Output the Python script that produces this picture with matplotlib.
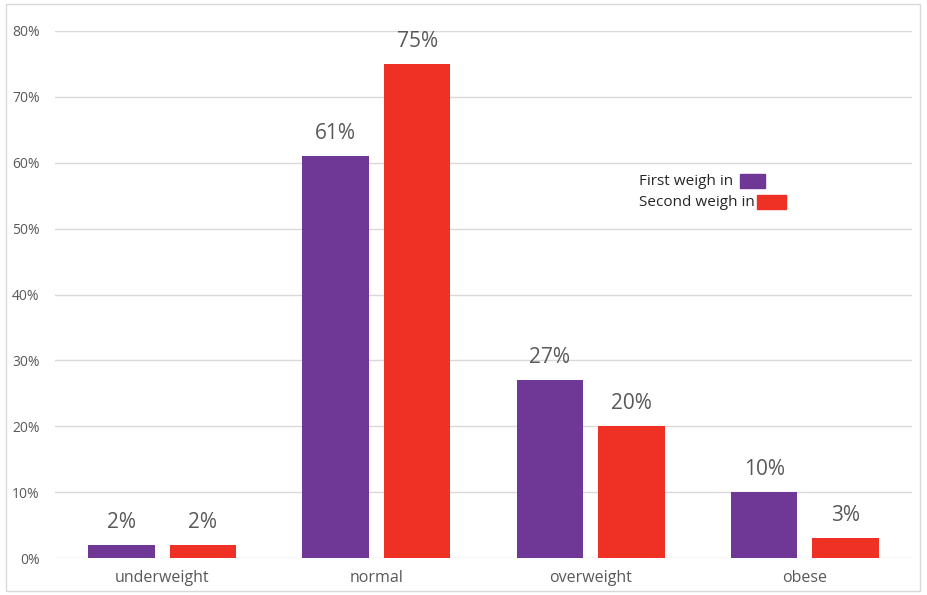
import matplotlib.pyplot as plt
import matplotlib.patches as mpatches
import numpy as np

categories = ['underweight', 'normal', 'overweight', 'obese']
first_weigh = [2, 61, 27, 10]
second_weigh = [2, 75, 20, 3]
series_names = ['First weigh in', 'Second weigh in']

purple = '#6f3896'
red = '#ee3124'
grey_txt = '#595959'

plt.rcParams['font.family'] = ['Open Sans', 'DejaVu Sans']

fig = plt.figure(figsize=(9.28, 5.95), dpi=100)
ax = fig.add_axes([55 / 928, 37 / 595, 857 / 928, 527 / 595])

x = np.arange(len(categories))
w = 0.31
off = 0.19
b1 = ax.bar(x - off, first_weigh, w, color=purple, zorder=3)
b2 = ax.bar(x + off, second_weigh, w, color=red, zorder=3)

# étiquettes de valeurs
for bars, vals in ((b1, first_weigh), (b2, second_weigh)):
    for b, v in zip(bars, vals):
        ax.text(b.get_x() + b.get_width() / 2, v + 1.8, f'{v}%',
                ha='center', va='bottom', fontsize=15, color=grey_txt)

ax.set_xlim(-0.5, len(categories) - 0.5)
ax.set_ylim(0, 80)
ax.set_yticks(range(0, 81, 10))
ax.set_yticklabels([f'{t}%' for t in range(0, 81, 10)])
ax.set_xticks(x)
ax.set_xticklabels(categories)
ax.tick_params(axis='y', length=0, pad=11, labelsize=10, labelcolor=grey_txt)
ax.tick_params(axis='x', length=0, pad=9, labelsize=11.5, labelcolor=grey_txt)
ax.grid(axis='y', color='#d9d9d9', linewidth=1, zorder=0)
for s in ax.spines.values():
    s.set_visible(False)

# légende faite à la main
ax.text(0.682, 0.715, series_names[0], transform=ax.transAxes, fontsize=11,
        color='#262626', va='center', ha='left')
ax.text(0.682, 0.675, series_names[1], transform=ax.transAxes, fontsize=11,
        color='#262626', va='center', ha='left')
ax.add_patch(mpatches.Rectangle((0.799, 0.703), 0.03, 0.025, transform=ax.transAxes,
                                color=purple, clip_on=False))
ax.add_patch(mpatches.Rectangle((0.819, 0.663), 0.034, 0.025, transform=ax.transAxes,
                                color=red, clip_on=False))

# cadre extérieur
fig.add_artist(mpatches.Rectangle((6 / 928, 4 / 595), 914 / 928, 587 / 595,
                                  transform=fig.transFigure, fill=False,
                                  edgecolor='#d9d9d9', linewidth=1))

fig.savefig('out.png', dpi=100)
